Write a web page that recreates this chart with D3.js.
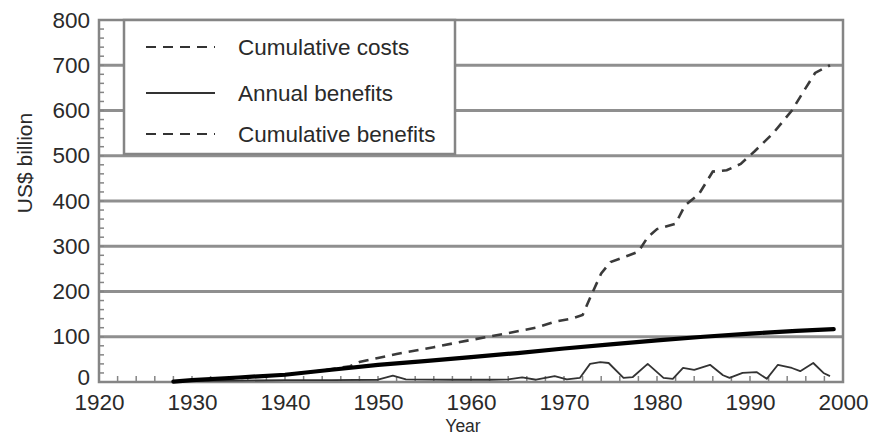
<!DOCTYPE html>
<html><head><meta charset="utf-8">
<script src="https://cdn.jsdelivr.net/npm/d3@7"></script>
<style>
body{margin:0;background:#fff;}
svg{display:block;font-family:"Liberation Sans",Arial,sans-serif;}
</style></head>
<body><svg id="c" width="872" height="436"></svg>
<script>
// ---- data ----
const yTicks = [0,100,200,300,400,500,600,700,800];
const xTicks = [1920,1930,1940,1950,1960,1970,1980,1990,2000];
const legendLabels = ["Cumulative costs","Annual benefits","Cumulative benefits"];

const costYears  = [1928,1932,1936,1940,1944,1947,1948,1950,1952,1956,1960,1964,1967,1969,1971,1972,1973,1974,1975,1977,1978,1979,1980,1982,1983,1984.5,1986,1987.5,1989,1990.5,1992.5,1994.5,1996,1997,1998.6];
const costValues = [1,5,10,16,25,35,44,53,62,77,93,108,120,133,141,148,195,240,265,280,288,320,338,350,390,415,465,468,482,510,550,600,650,683,700];

const benefitYears  = [1928,1930,1935,1940,1945,1950,1955,1960,1965,1970,1975,1980,1985,1990,1995,1999];
const benefitValues = [1,4,10,16,27,38,46,55,64,74,83,92,100,107,113,117];

const annualYears  = [1928,1935,1940,1945,1950,1951.6,1953,1958,1962,1964,1965.5,1967,1969,1970.3,1971.7,1972.8,1973.9,1974.8,1976.4,1977.4,1979,1980.7,1981.7,1982.8,1984,1985.7,1987.1,1987.8,1989.2,1990.7,1991.8,1993,1994.5,1995.4,1996.8,1997.9,1998.6];
const annualValues = [2,3,4,4,5,14,6,5,5,6,10,5,13,6,9,40,44,42,9,11,40,9,7,31,27,38,15,9,20,22,7,38,31,24,42,20,13];

// ---- layout ----
const svg = d3.select("#c");
const L = 99, R = 843, T = 20, B = 382;
const x = d3.scaleLinear().domain([1920,2000]).range([L,R]);
const y = d3.scaleLinear().domain([0,800]).range([B,T]);
const FS = 22.5;
const grey = "#858585";
const txt = "#2a2a2a";

// gridlines
svg.append("g").selectAll("line").data(yTicks.filter(d=>d>0&&d<800)).join("line")
  .attr("x1",L).attr("x2",R).attr("y1",d=>y(d)).attr("y2",d=>y(d))
  .attr("stroke","#8f8f8f").attr("stroke-width",3);

// minor ticks y (inside)
const yMinor = d3.range(0,801,20);
svg.append("g").selectAll("line").data(yMinor).join("line")
  .attr("x1",L).attr("x2",L+5).attr("y1",d=>y(d)).attr("y2",d=>y(d))
  .attr("stroke",grey).attr("stroke-width",1.5);
// minor ticks x (inside)
const xMinor = d3.range(1920,2001,2);
svg.append("g").selectAll("line").data(xMinor).join("line")
  .attr("x1",d=>x(d)).attr("x2",d=>x(d)).attr("y1",B).attr("y2",B-6)
  .attr("stroke",grey).attr("stroke-width",1.5);

// frame
svg.append("rect").attr("x",L).attr("y",T).attr("width",R-L).attr("height",B-T)
  .attr("fill","none").attr("stroke",grey).attr("stroke-width",2.5);

// axes labels
const yAxis = d3.axisLeft(y).tickValues(yTicks).tickSize(0).tickPadding(9);
const gy = svg.append("g").attr("transform",`translate(${L},0)`).call(yAxis);
gy.select(".domain").remove();
gy.selectAll("text").attr("font-size",FS).attr("fill",txt).attr("font-family","Liberation Sans, Arial, sans-serif")
  .attr("dy",d=>d===0?"0.1em":"0.32em");

const xAxis = d3.axisBottom(x).tickValues(xTicks).tickFormat(d3.format("d")).tickSize(0).tickPadding(12);
const gx = svg.append("g").attr("transform",`translate(0,${B})`).call(xAxis);
gx.select(".domain").remove();
gx.selectAll("text").attr("font-size",FS).attr("fill",txt).attr("font-family","Liberation Sans, Arial, sans-serif");

svg.append("text").attr("x",(L+R)/2-8).attr("y",432).attr("text-anchor","middle")
  .attr("font-size",17.5).attr("fill",txt).text("Year");
svg.append("text").attr("transform","translate(32,163) rotate(-90)").attr("text-anchor","middle")
  .attr("font-size",21).attr("fill",txt).text("US$ billion");

// lines
const mk = (xs,vs)=>xs.map((d,i)=>[d,vs[i]]);
const line = d3.line().x(d=>x(d[0])).y(d=>y(d[1]));

svg.append("path").datum(mk(annualYears,annualValues)).attr("d",line)
  .attr("fill","none").attr("stroke","#333").attr("stroke-width",1.8).attr("stroke-linejoin","round");
svg.append("path").datum(mk(costYears,costValues)).attr("d",line)
  .attr("fill","none").attr("stroke","#3a3a3a").attr("stroke-width",2.6).attr("stroke-dasharray","10,7");
svg.append("path").datum(mk(benefitYears,benefitValues)).attr("d",line)
  .attr("fill","none").attr("stroke","#000").attr("stroke-width",4.2).attr("stroke-linecap","round");

// legend
const lg = svg.append("g");
lg.append("rect").attr("x",124).attr("y",T).attr("width",331).attr("height",134)
  .attr("fill","#fff").attr("stroke",grey).attr("stroke-width",2.5);
const ly = [47,93,134];
const dashes = ["10,7",null,"10,7"];
legendLabels.forEach((t,i)=>{
  lg.append("line").attr("x1",146).attr("x2",215).attr("y1",ly[i]).attr("y2",ly[i])
    .attr("stroke","#333").attr("stroke-width",2).attr("stroke-dasharray",dashes[i]);
  lg.append("text").attr("x",238).attr("y",ly[i]+8).attr("font-size",FS).attr("fill",txt).text(t);
});
</script></body></html>
